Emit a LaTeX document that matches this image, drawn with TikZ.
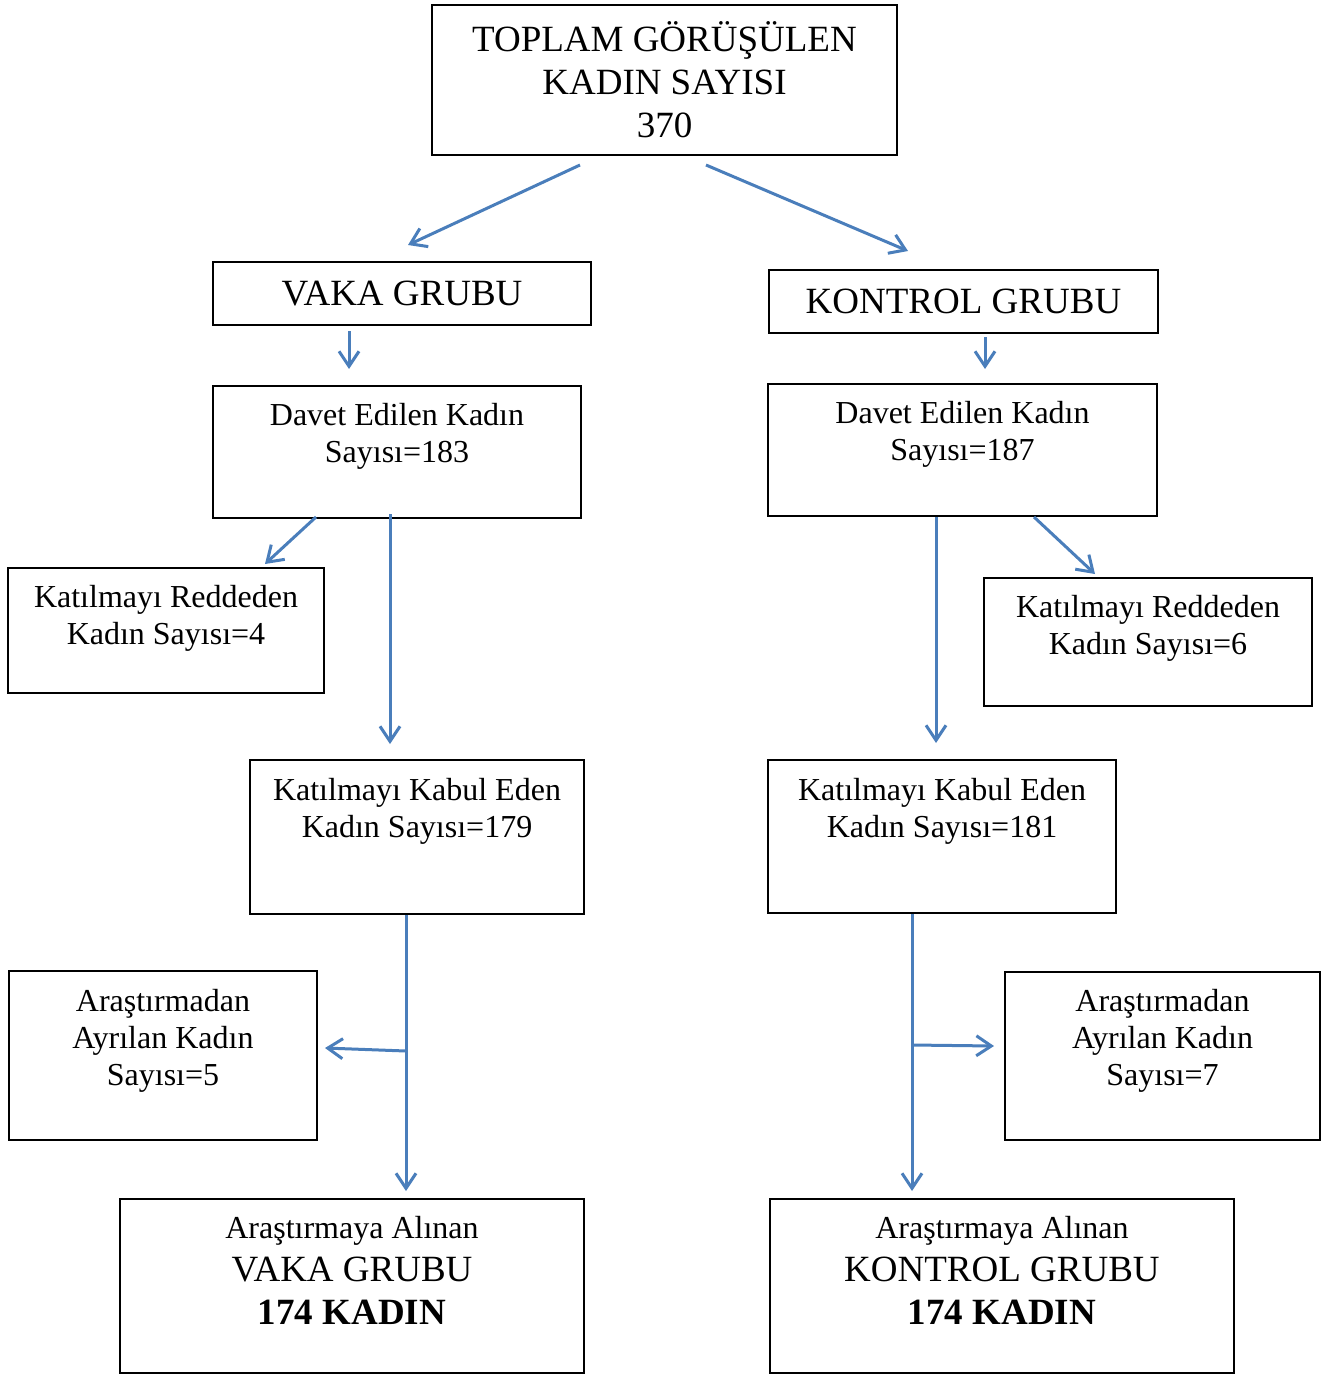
\documentclass[tikz,border=0pt]{standalone}
\usepackage{fontspec}
\setmainfont{Liberation Serif}
\usetikzlibrary{arrows.meta,calc}
\definecolor{arrblue}{RGB}{74,126,187}
\newcommand\sfnt{\fontsize{32}{37}\selectfont}
\newcommand\bfnt{\fontsize{37}{43}\selectfont}
\begin{document}
\begin{tikzpicture}[x=1pt,y=-1pt,
  box/.style={draw=black, line width=2pt, inner sep=0pt},
  txt/.style={anchor=north, align=center, inner sep=0pt, font=\sfnt},
  arr/.style={draw=arrblue, line width=3pt, -{Straight Barb[length=15pt,width=20pt]}}]
\useasboundingbox (0,0) rectangle (1327,1376);
% top
\node[box, minimum width=465pt, minimum height=150pt] (top) at (664.5,80) {};
\node[txt, font=\bfnt] (topT) at (664.5,18) {\rule{0pt}{33pt}TOPLAM GÖRÜŞÜLEN\\KADIN SAYISI\\370};
% groups
\node[box, minimum width=378pt, minimum height=63pt, font=\bfnt] (vaka) at (402,293.5) {VAKA GRUBU};
\node[box, minimum width=389pt, minimum height=63pt, font=\bfnt] (kontrol) at (963.5,301.5) {KONTROL GRUBU};
% davet
\node[box, minimum width=368pt, minimum height=132pt] (davetL) at (397,452) {};
\node[txt] (davetLT) at (397,395) {\rule{0pt}{30pt}Davet Edilen Kadın\\Sayısı=183};
\node[box, minimum width=389pt, minimum height=132pt] (davetR) at (962.5,450) {};
\node[txt] (davetRT) at (962.5,393) {\rule{0pt}{30pt}Davet Edilen Kadın\\Sayısı=187};
% reddeden
\node[box, minimum width=316pt, minimum height=125pt] (retL) at (166,630.5) {};
\node[txt] (retLT) at (166,577) {\rule{0pt}{30pt}Katılmayı Reddeden\\Kadın Sayısı=4};
\node[box, minimum width=328pt, minimum height=128pt] (retR) at (1148,642) {};
\node[txt] (retRT) at (1148,587) {\rule{0pt}{30pt}Katılmayı Reddeden\\Kadın Sayısı=6};
% kabul
\node[box, minimum width=334pt, minimum height=154pt] (kabulL) at (417,837) {};
\node[txt] (kabulLT) at (417,770) {\rule{0pt}{30pt}Katılmayı Kabul Eden\\Kadın Sayısı=179};
\node[box, minimum width=348pt, minimum height=153pt] (kabulR) at (942,836.5) {};
\node[txt] (kabulRT) at (942,770) {\rule{0pt}{30pt}Katılmayı Kabul Eden\\Kadın Sayısı=181};
% ayrilan
\node[box, minimum width=308pt, minimum height=169pt] (ayrL) at (163,1055.5) {};
\node[txt] (ayrLT) at (163,981) {\rule{0pt}{30pt}Araştırmadan\\Ayrılan Kadın\\Sayısı=5};
\node[box, minimum width=315pt, minimum height=168pt] (ayrR) at (1162.5,1056) {};
\node[txt] (ayrRT) at (1162.5,981) {\rule{0pt}{30pt}Araştırmadan\\Ayrılan Kadın\\Sayısı=7};
% final
\node[box, minimum width=464pt, minimum height=174pt] (finL) at (352,1286) {};
\node[txt, font=\bfnt] (finLT) at (352,1208) {{\sfnt\rule{0pt}{30pt}Araştırmaya Alınan}\\VAKA GRUBU\\{\bfseries 174 KADIN}};
\node[box, minimum width=464pt, minimum height=174pt] (finR) at (1002,1286) {};
\node[txt, font=\bfnt] (finRT) at (1002,1208) {{\sfnt\rule{0pt}{30pt}Araştırmaya Alınan}\\KONTROL GRUBU\\{\bfseries 174 KADIN}};
% branch points
\coordinate (brL) at ($(kabulL.south)+(-11,136)$);
\coordinate (brR) at ($(kabulR.south)+(-30,131)$);
% arrows
\draw[arr] ($(top.south)+(-84.5,9)$) -- ($(vaka.north)+(6,-16)$);
\draw[arr] ($(top.south)+(41.5,9)$) -- ($(kontrol.north)+(-55.5,-18)$);
\draw[arr] ($(vaka.south)+(-53,5)$) -- ($(davetL.north)+(-48,-16)$);
\draw[arr] ($(kontrol.south)+(21.5,3)$) -- ($(davetR.north)+(22.5,-14)$);
\draw[arr] ($(davetL.south)+(-81,-2)$) -- ($(retL.north)+(99,-3)$);
\draw[arr] ($(davetL.south)+(-7,-5)$) -- ($(kabulL.north)+(-27,-15)$);
\draw[arr] ($(davetR.south)+(-26.5,0)$) -- ($(kabulR.north)+(-6,-16)$);
\draw[arr] ($(davetR.south)+(71.5,0)$) -- ($(retR.north)+(-53,-3)$);
\draw[arr] ($(kabulL.south)+(-11,0)$) -- ($(finL.north)+(54,-7)$);
\draw[arr] (brL) -- ($(ayrL.east)+(7,-7.5)$);
\draw[arr] ($(kabulR.south)+(-30,0)$) -- ($(finR.north)+(-90,-7)$);
\draw[arr] (brR) -- ($(ayrR.west)+(-10,-10)$);
\end{tikzpicture}
\end{document}
